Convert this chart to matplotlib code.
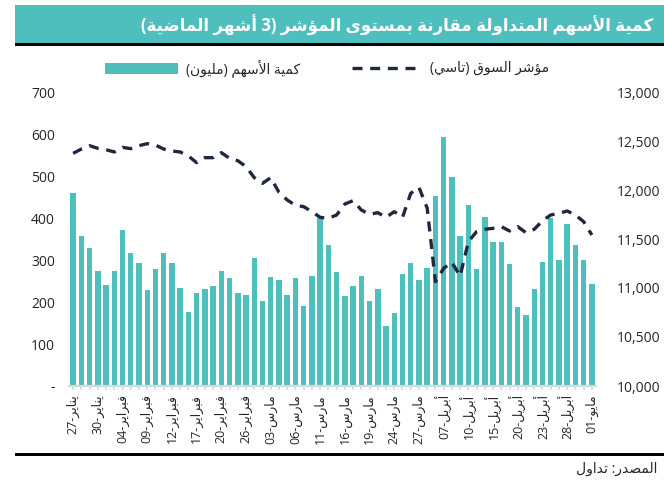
import re
import matplotlib
matplotlib.use('Agg')
import matplotlib.pyplot as plt
from matplotlib.patches import Rectangle
from matplotlib.lines import Line2D
from matplotlib.ticker import FuncFormatter, MultipleLocator

plt.rcParams['font.family'] = ['Open Sans', 'DejaVu Sans']

# trading days, 27 Jan -> 1 May
days = [27, 28, 29, 30,
        2, 3, 4, 5, 6, 9, 10, 11, 12, 13, 16, 17, 18, 19, 20, 24, 25, 26, 27,
        2, 3, 4, 5, 6, 9, 10, 11, 12, 13, 16, 17, 18, 19, 20, 23, 24, 25, 26, 27,
        3, 6, 7, 8, 9, 10, 13, 14, 15, 16, 17, 20, 21, 22, 23, 24, 27, 28, 29, 30,
        1]
months = (['يناير'] * 4 + ['فبراير'] * 19 + ['مارس'] * 20 + ['أبريل'] * 20 + ['مايو'])

volume = [459, 357, 329, 275, 240, 273, 371, 317, 292, 229, 279, 317, 294,
          233, 176, 221, 232, 238, 274, 256, 221, 217, 305, 202, 260, 253,
          217, 257, 190, 261, 400, 336, 271, 215, 238, 263, 202, 230, 143,
          175, 266, 292, 252, 282, 453, 592, 498, 356, 432, 279, 402, 342,
          344, 291, 187, 169, 231, 296, 400, 300, 385, 336, 300, 244]

tasi = [12374, 12418, 12452, 12425, 12411, 12388, 12435, 12422, 12452, 12473, 12459, 12418, 12398,
        12388, 12347, 12279, 12330, 12330, 12381, 12323, 12299, 12238, 12126, 12068, 12126, 11976,
        11898, 11844, 11830, 11779, 11721, 11711, 11745, 11857, 11891, 11796, 11752, 11769, 11721,
        11779, 11721, 11966, 12027, 11815, 11064, 11201, 11262, 11122, 11473, 11575, 11599, 11609,
        11626, 11582, 11626, 11564, 11599, 11687, 11745, 11762, 11786, 11745, 11677, 11541]

title = 'كمية الأسهم المتداولة مقارنة بمستوى المؤشر (3 أشهر الماضية)'
bar_name = 'كمية الأسهم (مليون)'
line_name = 'مؤشر السوق (تاسي)'
source = 'المصدر: تداول'

# --- tiny arabic shaper: matplotlib has no shaping / bidi
counts = [1, 2, 2, 2, 2, 4, 2, 4, 2, 4, 4, 4, 4, 4, 2, 2, 2, 2, 4, 4, 4, 4, 4, 4, 4, 4,
          4, 4, 4, 4, 4, 4, 4, 2, 2, 4]
letters = [chr(c) for c in range(0x0621, 0x063B)] + [chr(c) for c in range(0x0641, 0x064B)]
FORMS = {}
code = 0xFE80
for ch, cnt in zip(letters, counts):
    FORMS[ch] = (code, cnt)
    code += cnt
LAM_ALEF = {'آ': 0xFEF5, 'أ': 0xFEF7, 'إ': 0xFEF9, 'ا': 0xFEFB}


def shape(s):
    out = []
    i = 0
    while i < len(s):
        ch = s[i]
        if ch not in FORMS:
            out.append(ch)
            i += 1
            continue
        prev = s[i - 1] if i > 0 else ''
        jp = prev in FORMS and FORMS[prev][1] == 4
        if ch == 'ل' and i + 1 < len(s) and s[i + 1] in LAM_ALEF:
            out.append(chr(LAM_ALEF[s[i + 1]] + (1 if jp else 0)))
            i += 2
            continue
        nxt = s[i + 1] if i + 1 < len(s) else ''
        base, cnt = FORMS[ch]
        jn = cnt == 4 and nxt in FORMS and nxt != 'ء'
        if cnt == 1:
            form = 0
        elif jp and jn:
            form = 3
        elif jp:
            form = 1
        elif jn:
            form = 2
        else:
            form = 0
        out.append(chr(base + form))
        i += 1
    return ''.join(out)


def ar(s):
    t = shape(s)[::-1].translate(str.maketrans('()', ')('))
    return re.sub(r'[0-9][0-9,.]*', lambda m: m.group(0)[::-1], t)


teal = '#4FBFBD'
navy = '#1E2840'
W, H = 664, 480

fig = plt.figure(figsize=(6.64, 4.8), dpi=100)
ax = fig.add_axes([69 / W, 1 - 386 / H, (596 - 69) / W, (386 - 92) / H])
ax2 = ax.twinx()

x = list(range(len(volume)))
ax.bar(x, volume, width=0.66, color=teal, zorder=2)
ax2.plot(x, tasi, color=navy, lw=2.4, linestyle=(0, (3.0, 2.3)), zorder=3)

ax.set_xlim(-0.5, len(volume) - 0.5)
ax.set_ylim(0, 700)
ax2.set_ylim(10000, 13000)
ax.yaxis.set_major_locator(MultipleLocator(100))
ax2.yaxis.set_major_locator(MultipleLocator(500))
ax.yaxis.set_major_formatter(FuncFormatter(lambda v, p: '-' if v == 0 else f'{v:,.0f}'))
ax2.yaxis.set_major_formatter(FuncFormatter(lambda v, p: f'{v:,.0f}'))

labels = [f'{d:02d}-' + ar(m) if i % 3 == 0 else '' for i, (d, m) in enumerate(zip(days, months))]
ax.set_xticks(x)
ax.set_xticklabels(labels, rotation=90, fontsize=9, color='#262626')
ax.tick_params(axis='x', length=3, width=1.2, color='#D9D9D9', pad=3)
ax.tick_params(axis='y', length=0, labelsize=10, labelcolor='#262626', pad=10)
ax2.tick_params(axis='y', length=0, labelsize=10, labelcolor='#262626', pad=15)

for a in (ax, ax2):
    for side in ('top', 'left', 'right'):
        a.spines[side].set_visible(False)
    a.spines['bottom'].set_color('#D9D9D9')
    a.spines['bottom'].set_linewidth(1.5)

# title band
fig.add_artist(Rectangle((15 / W, 1 - 43 / H), 1, 38 / H, transform=fig.transFigure,
                         color=teal, lw=0))
fig.add_artist(Rectangle((15 / W, 1 - 46 / H), 1, 3 / H, transform=fig.transFigure,
                         color='black', lw=0))
fig.text(653 / W, 1 - 25 / H, ar(title), color='white', fontsize=12, fontweight='bold',
         ha='right', va='center')

# legend
fig.add_artist(Rectangle((105 / W, 1 - 74 / H), 73 / W, 11 / H, transform=fig.transFigure,
                         color=teal, lw=0))
fig.text(186 / W, 1 - 68 / H, ar(bar_name), fontsize=10, color='#262626', ha='left', va='center')
fig.add_artist(Line2D([352 / W, 422 / W], [1 - 68 / H, 1 - 68 / H], transform=fig.transFigure,
                      color=navy, lw=2.4, linestyle=(0, (3.0, 2.3))))
fig.text(430 / W, 1 - 68 / H, ar(line_name), fontsize=10, color='#262626', ha='left', va='center')

# footer
fig.add_artist(Rectangle((15 / W, 1 - 456 / H), 1, 3 / H, transform=fig.transFigure,
                         color='black', lw=0))
fig.text(657 / W, 1 - 469 / H, ar(source), fontsize=10, color='#262626', ha='right', va='center')

fig.savefig('out.png', dpi=100)
